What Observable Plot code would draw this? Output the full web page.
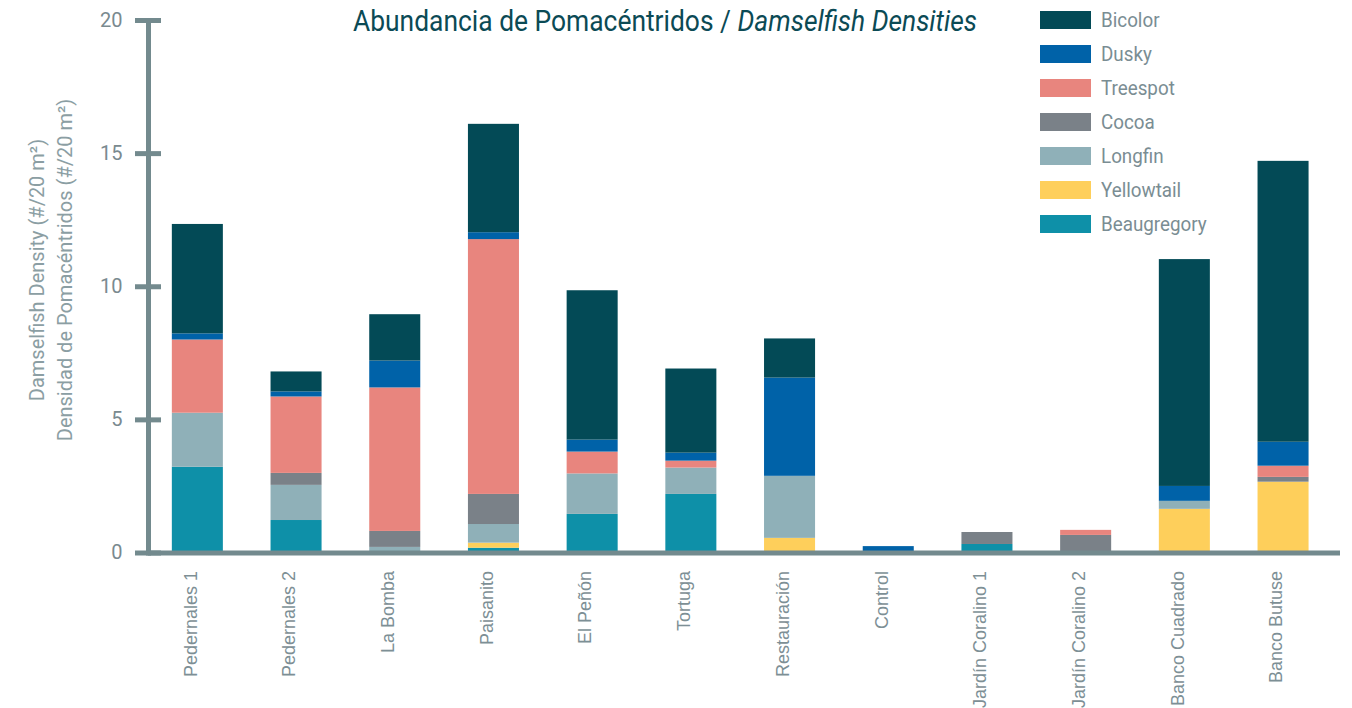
<!DOCTYPE html>
<html>
<head>
<meta charset="utf-8">
<script src="https://cdn.jsdelivr.net/npm/d3@7"></script>
<script src="https://cdn.jsdelivr.net/npm/@observablehq/plot@0.6"></script>
<style>
  body { margin: 0; background: #fff; }
  #wrap { position: relative; width: 1352px; height: 708px; overflow: hidden; font-family: Roboto, sans-serif; }
  #title { position: absolute; left: 665px; top: 4px; transform: translateX(-50%) scaleX(0.91); white-space: nowrap; font-size: 29px; color: #0b4a55; }
  .ylab { position: absolute; white-space: nowrap; font-size: 20px; color: #8b9ea3; transform: translate(-50%, -50%) rotate(-90deg); }
  #legend { position: absolute; left: 1040px; top: 11px; }
  .lrow { height: 34px; display: flex; align-items: flex-start; }
  .sw { width: 51px; height: 18px; margin-right: 10px; }
  .lt { font-size: 20px; color: #7a8d93; line-height: 18px; transform-origin: left center; transform: scaleX(0.94); }
</style>
</head>
<body>
<div id="wrap">
  <div id="chart"></div>
  <div id="title">Abundancia de Pomacéntridos / <i>Damselfish Densities</i></div>
  <div class="ylab" style="left:37px; top:270px;">Damselfish Density (#/20 m²)</div>
  <div class="ylab" style="left:65px; top:270px;">Densidad de Pomacéntridos (#/20 m²)</div>
  <div id="legend"></div>
</div>
<script>
const sites = ["Pedernales 1", "Pedernales 2", "La Bomba", "Paisanito", "El Peñón", "Tortuga", "Restauración", "Control", "Jardín Coralino 1", "Jardín Coralino 2", "Banco Cuadrado", "Banco Butuse"];
// species in stacking order, bottom to top
const species = ["Beaugregory", "Yellowtail", "Longfin", "Cocoa", "Treespot", "Dusky", "Bicolor"];
const speciesColors = ["#0e90a8", "#fecf5b", "#8fb0b8", "#7a8188", "#e8857e", "#0062a8", "#034a56"];
const beaugregory = [3.22, 1.22, 0, 0.18, 1.45, 2.20, 0, 0, 0.32, 0, 0, 0];
const yellowtail  = [0, 0, 0, 0.19, 0, 0, 0.55, 0, 0, 0, 1.64, 2.66];
const longfin     = [2.03, 1.32, 0.21, 0.70, 1.52, 0.99, 2.33, 0, 0, 0, 0.30, 0];
const cocoa       = [0, 0.45, 0.60, 1.13, 0, 0, 0, 0, 0.45, 0.66, 0, 0.18];
const treespot    = [2.75, 2.87, 5.39, 9.57, 0.82, 0.26, 0, 0, 0, 0.19, 0, 0.42];
const dusky       = [0.23, 0.19, 1.01, 0.26, 0.45, 0.30, 3.69, 0.24, 0, 0, 0.56, 0.90];
const bicolor     = [4.11, 0.75, 1.74, 4.07, 5.61, 3.16, 1.47, 0, 0, 0, 8.52, 10.55];
const yTicks = [0, 5, 10, 15, 20];

const seriesValues = [beaugregory, yellowtail, longfin, cocoa, treespot, dusky, bicolor];
const rows = [];
species.forEach((sp, i) => {
  sites.forEach((site, j) => rows.push({site, species: sp, value: seriesValues[i][j]}));
});

const axisColor = "#738a8e";
const W = 1352, H = 708, mL = 148, mR = 12, mT = 20, mB = 155.5;
const frameW = W - mL - mR;

const chart = Plot.plot({
  width: W,
  height: H,
  marginLeft: mL,
  marginRight: mR,
  marginTop: mT,
  marginBottom: mB,
  style: {fontFamily: "'Liberation Sans', Arial, sans-serif", background: "transparent"},
  x: {domain: sites, range: [mL, mL + 98.7 * 12], round: false, paddingInner: 0.483, paddingOuter: 0.2415, label: null},
  y: {domain: [0, 20], label: null},
  color: {domain: species, range: speciesColors},
  marks: [
    Plot.barY(rows, {x: "site", y: "value", fill: "species"}),
    Plot.frame({anchor: "left", stroke: axisColor, strokeWidth: 5}),
    Plot.tickY(yTicks, {y: d => d, stroke: axisColor, strokeWidth: 5, insetLeft: -13, insetRight: frameW - 13}),
    Plot.ruleY([0], {stroke: axisColor, strokeWidth: 5}),
    Plot.axisY({ticks: yTicks, tickSize: 0, tickPadding: 26, fontSize: 20, fontFamily: "Roboto, sans-serif", color: "#7a8a8f"}),
    Plot.axisX({tickSize: 0, tickRotate: -90, tickPadding: 18, dx: -7, fontSize: 18, color: "#7d8f95"})
  ]
});
document.getElementById("chart").appendChild(chart);

const legend = document.getElementById("legend");
[...species].reverse().forEach(sp => {
  const row = document.createElement("div");
  row.className = "lrow";
  const sw = document.createElement("div");
  sw.className = "sw";
  sw.style.background = speciesColors[species.indexOf(sp)];
  const t = document.createElement("div");
  t.className = "lt";
  t.textContent = sp;
  row.appendChild(sw); row.appendChild(t);
  legend.appendChild(row);
});
</script>
</body>
</html>
